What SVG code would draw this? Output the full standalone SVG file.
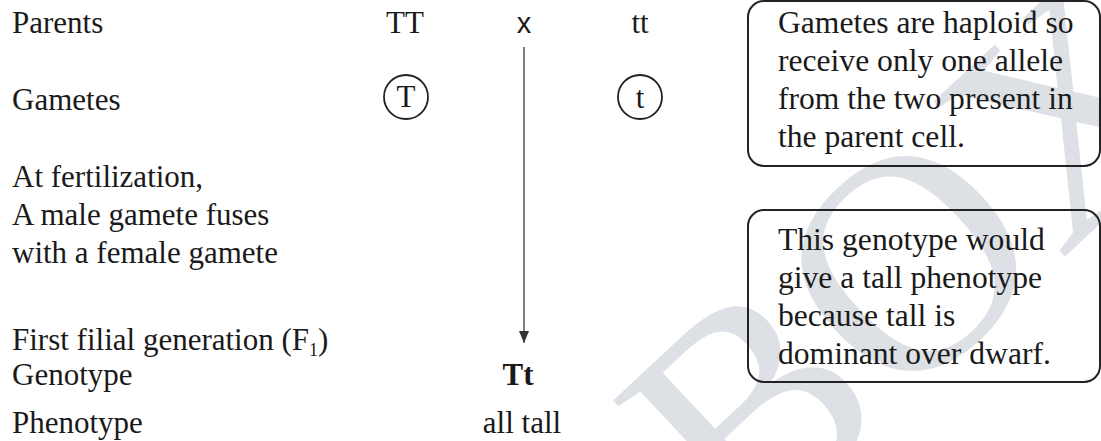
<svg xmlns="http://www.w3.org/2000/svg" width="1101" height="441" viewBox="0 0 1101 441">
<style>
text{font-family:"Liberation Serif","Times New Roman",serif;font-size:31px;fill:#1a1a1a}
.c{text-anchor:middle}
.b{font-weight:bold}
.note{font-size:31.6px}
.sans{font-family:"Liberation Sans",Arial,sans-serif;font-size:29px}
.wm{font-family:"Liberation Serif",serif;font-size:310px;fill:#dde0e5}
.box{fill:none;stroke:#222;stroke-width:2}
.circ{fill:none;stroke:#222;stroke-width:1.8}
.conn{stroke:#555;stroke-width:1.5;fill:none}
</style>
<defs>
<marker id="ah" viewBox="0 0 12 10" refX="12" refY="5" markerWidth="12" markerHeight="10" markerUnits="userSpaceOnUse" orient="auto">
<path d="M0,0 L12,5 L0,10 Z" fill="#333"/>
</marker>
</defs>
<rect width="1101" height="441" fill="#fff"/>
<g id="watermark">
<text class="wm" transform="translate(745,555) rotate(-43)">BOX</text>
</g>
<g id="labels">
<text x="12" y="33">Parents</text>
<text x="12" y="110">Gametes</text>
<text x="12" y="187">At fertilization,</text>
<text x="12" y="225">A male gamete fuses</text>
<text x="12" y="263">with a female gamete</text>
<text x="12" y="350">First filial generation (F<tspan font-size="18" dy="6">1</tspan><tspan dy="-6">)</tspan></text>
<text x="12" y="385">Genotype</text>
<text x="12" y="433">Phenotype</text>
</g>
<g id="parent-TT"><text class="c" x="405" y="33">TT</text></g>
<g id="cross"><text class="c sans" x="524" y="33">x</text></g>
<g id="parent-tt"><text class="c" x="640" y="33">tt</text></g>
<g id="gamete-T">
<circle class="circ" cx="406" cy="97" r="22"/>
<text class="c" x="406" y="107">T</text>
</g>
<g id="gamete-t">
<circle class="circ" cx="640" cy="97" r="22"/>
<text class="c" x="640" y="108">t</text>
</g>
<g id="offspring">
<text class="c b" x="518" y="385">Tt</text>
<text class="c" x="522" y="433">all tall</text>
</g>
<g id="note-gametes">
<rect class="box" x="748" y="1" width="352" height="165" rx="16"/>
<text class="note" x="778" y="33">Gametes are haploid so</text>
<text class="note" x="778" y="71">receive only one allele</text>
<text class="note" x="778" y="109">from the two present in</text>
<text class="note" x="778" y="147">the parent cell.</text>
</g>
<g id="note-genotype">
<rect class="box" x="748" y="210" width="352" height="172" rx="16"/>
<text class="note" x="778" y="250">This genotype would</text>
<text class="note" x="778" y="288">give a tall phenotype</text>
<text class="note" x="778" y="326">because tall is</text>
<text class="note" x="778" y="364">dominant over dwarf.</text>
</g>
<g id="connectors">
<line class="conn" x1="524" y1="47" x2="524" y2="343" marker-end="url(#ah)"/>
</g>
</svg>
